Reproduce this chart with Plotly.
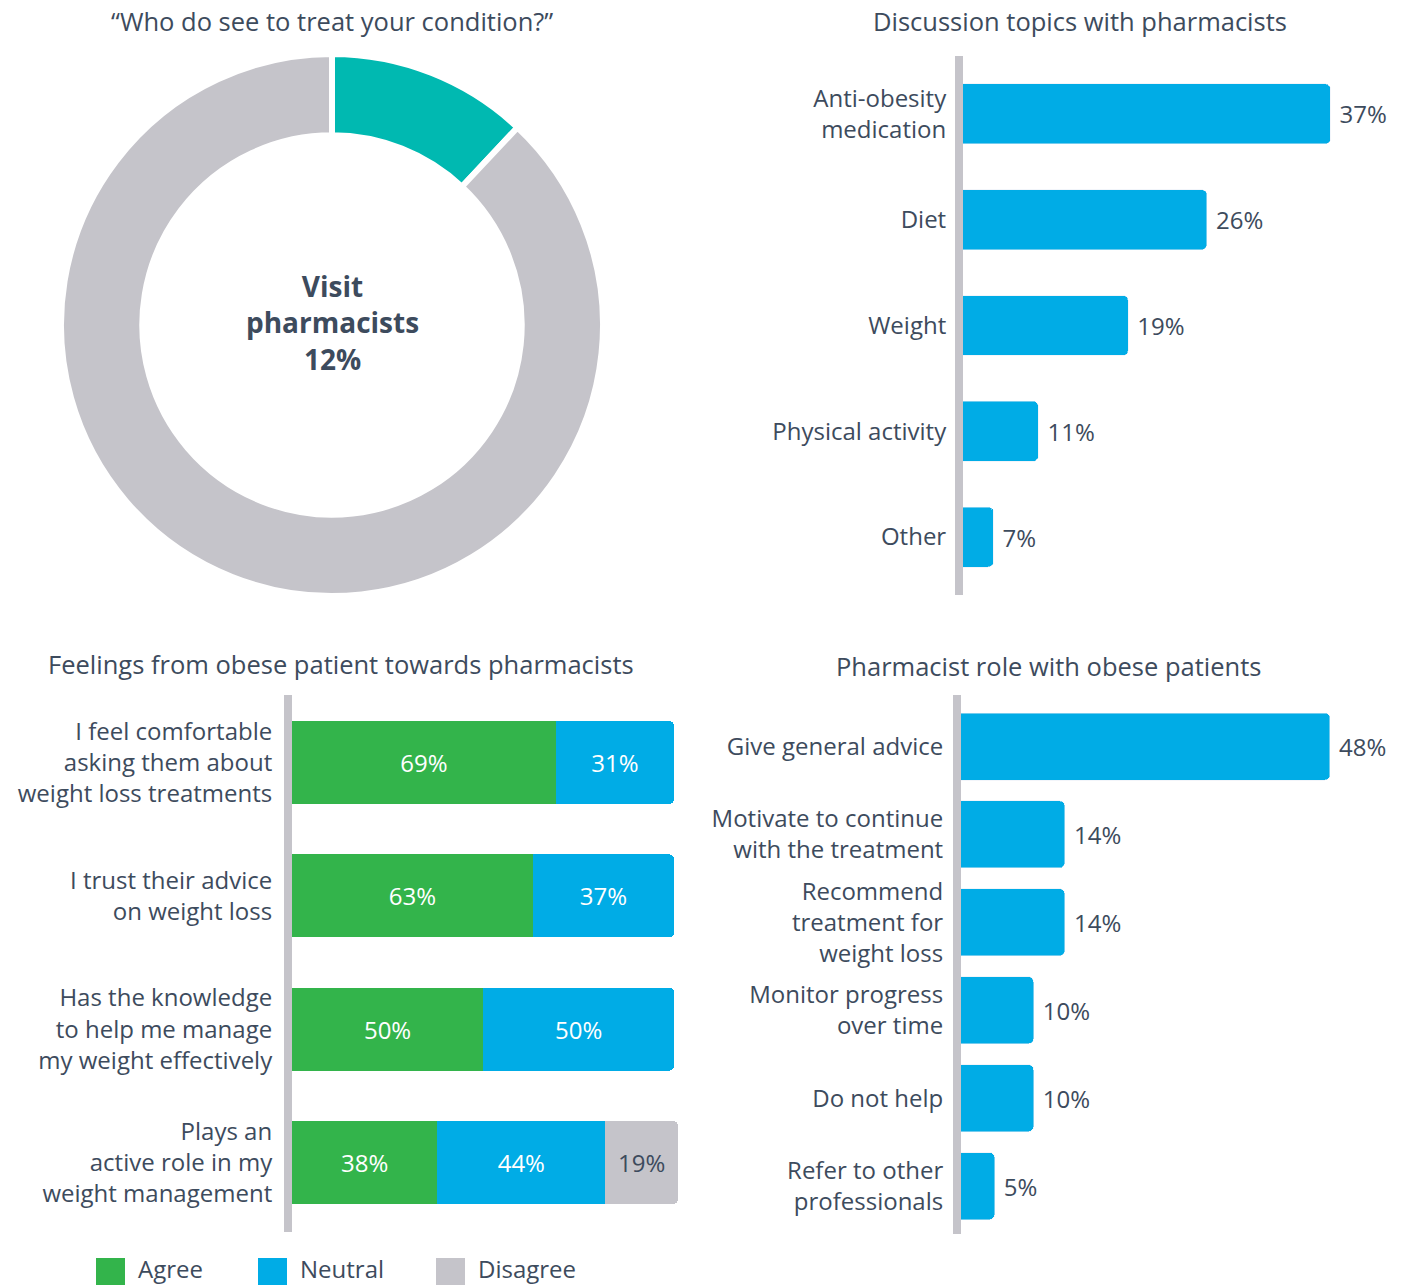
import plotly.graph_objects as go

# ---- data ----
donut_labels = ["Visit pharmacists", "Other"]
donut_values = [12, 88]
donut_center_lines = ["Visit", "pharmacists", "12%"]

topic_labels = ["Anti-obesity<br>medication", "Diet", "Weight", "Physical activity", "Other"]
topic_values = [37, 26, 19, 11, 7]

feeling_labels = [
    "I feel comfortable<br>asking them about<br>weight loss treatments",
    "I trust their advice<br>on weight loss",
    "Has the knowledge<br>to help me manage<br>my weight effectively",
    "Plays an<br>active role in my<br>weight management",
]
series_names = ["Agree", "Neutral", "Disagree"]
agree_values = [69, 63, 50, 38]
neutral_values = [31, 37, 50, 44]
disagree_values = [None, None, None, 19]

role_labels = [
    "Give general advice",
    "Motivate to continue<br>with the treatment",
    "Recommend<br>treatment for<br>weight loss",
    "Monitor progress<br>over time",
    "Do not help",
    "Refer to other<br>professionals",
]
role_values = [48, 14, 14, 10, 10, 5]

# ---- style ----
W, H = 1404, 1285
FONT = "Open Sans"
TXT = "#3d4b5d"
TEAL = "#00b9b1"
GREY = "#c5c4ca"
BLUE = "#00ace6"
GREEN = "#33b44b"
TITLE_SIZE = 25.5


def fx(p):
    return p / W


def fy(p):
    return 1 - p / H


fig = go.Figure()

# donut
fig.add_trace(go.Pie(
    labels=donut_labels, values=donut_values,
    hole=0.70, sort=False, direction="clockwise", rotation=0,
    marker=dict(colors=[TEAL, GREY], line=dict(color="white", width=6)),
    textinfo="none", hoverinfo="skip", showlegend=False,
    domain=dict(x=[fx(61), fx(603)], y=[fy(596), fy(54)]),
))

# discussion topics
fig.add_trace(go.Bar(
    x=topic_values, y=topic_labels, orientation="h",
    marker=dict(color=BLUE, cornerradius=5), width=0.567,
    texttemplate="\u00a0%{x}%", textposition="outside", cliponaxis=False,
    constraintext="none",
    textfont=dict(size=24, color=TXT, family=FONT),
    showlegend=False, hoverinfo="skip", xaxis="x", yaxis="y",
))

# feelings (stacked)
for name, vals, col, tcol in [
    (series_names[0], agree_values, GREEN, "white"),
    (series_names[1], neutral_values, BLUE, "white"),
    (series_names[2], disagree_values, GREY, TXT),
]:
    fig.add_trace(go.Bar(
        x=vals, y=feeling_labels, orientation="h", name=name,
        marker=dict(color=col, cornerradius=5, line=dict(width=0)), width=0.623,
        texttemplate="%{x}%", textposition="inside", insidetextanchor="middle",
        textangle=0, constraintext="none",
        textfont=dict(size=24, color=tcol, family=FONT),
        showlegend=False, hoverinfo="skip", xaxis="x2", yaxis="y2",
    ))

# pharmacist role
fig.add_trace(go.Bar(
    x=role_values, y=role_labels, orientation="h",
    marker=dict(color=BLUE, cornerradius=5), width=0.762,
    texttemplate="\u00a0%{x}%", textposition="outside", cliponaxis=False,
    constraintext="none",
    textfont=dict(size=24, color=TXT, family=FONT),
    showlegend=False, hoverinfo="skip", xaxis="x3", yaxis="y3",
))


def yax(cats, rng, dom, anchor, standoff=4):
    return dict(
        type="category", categoryorder="array", categoryarray=cats,
        range=rng, domain=dom, anchor=anchor,
        showline=True, linecolor=GREY, linewidth=8,
        showgrid=False, zeroline=False, ticks="", ticklabelstandoff=standoff,
        tickfont=dict(size=24, color=TXT, family=FONT), fixedrange=True,
    )


def xax(rng, dom, anchor):
    return dict(range=rng, domain=dom, anchor=anchor, visible=False,
                showgrid=False, zeroline=False, fixedrange=True)


annotations = [
    dict(text="<b>" + "<br>".join(donut_center_lines) + "</b>", x=fx(332), y=fy(322),
         font=dict(size=28, color=TXT, family=FONT)),
]

titles = [
    ("\u201cWho do see to treat your condition?\u201d", 332, 21),
    ("Discussion topics with pharmacists", 1080, 21),
    ("Feelings from obese patient towards pharmacists", 341, 664),
    ("Pharmacist role with obese patients", 1048, 666),
]
for text, tx, ty in titles:
    annotations.append(dict(text=text, x=fx(tx), y=fy(ty),
                            font=dict(size=TITLE_SIZE, color=TXT, family=FONT)))

for a in annotations:
    a.update(xref="paper", yref="paper", showarrow=False,
             xanchor="center", yanchor="middle")

# legend swatches for the stacked chart
shapes = []
legend_cols = [GREEN, BLUE, GREY]
legend_box_x = [96, 258, 436]
legend_txt_x = [136, 298, 476]
for name, col, bx, tx in zip(series_names, legend_cols, legend_box_x, legend_txt_x):
    shapes.append(dict(type="rect", xref="paper", yref="paper",
                       x0=fx(bx), x1=fx(bx + 29), y0=fy(1286), y1=fy(1258),
                       fillcolor=col, line=dict(width=0)))
    annotations.append(dict(text=name, xref="paper", yref="paper", showarrow=False,
                            x=fx(tx), y=fy(1268), xanchor="left", yanchor="middle",
                            font=dict(size=24, color=TXT, family=FONT)))

fig.update_layout(
    width=W, height=H, margin=dict(l=0, r=0, t=0, b=0),
    paper_bgcolor="white", plot_bgcolor="rgba(0,0,0,0)",
    font=dict(family=FONT, color=TXT),
    barmode="stack", showlegend=False, hovermode=False,
    xaxis=xax([4.3, 43.2], [fx(963), fx(1400)], "y"),
    yaxis=yax(topic_labels, [4.548, -0.548], [fy(595), fy(56)], "x"),
    xaxis2=xax([0, 101], [fx(292), fx(678)], "y2"),
    yaxis2=yax(feeling_labels, [3.521, -0.506], [fy(1232), fy(695)], "x2", standoff=7),
    xaxis3=xax([0.7, 57.0], [fx(961), fx(1400)], "y3"),
    yaxis3=yax(role_labels, [5.546, -0.586], [fy(1234), fy(695)], "x3", standoff=5),
    annotations=annotations, shapes=shapes,
)

fig.write_html("out.html", config={"displayModeBar": False})
